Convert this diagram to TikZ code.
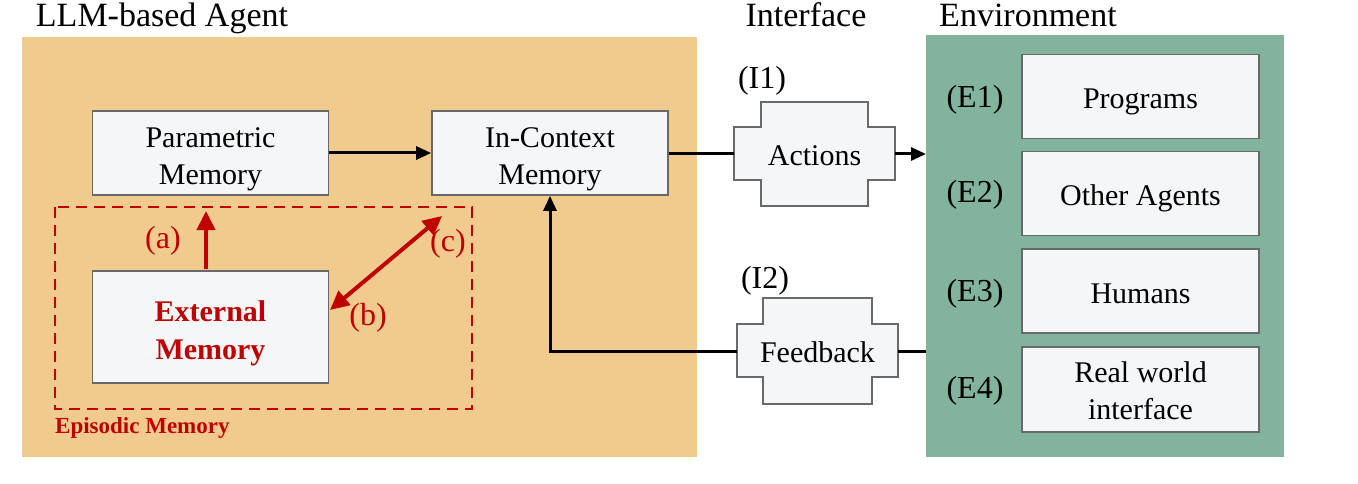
\documentclass[tikz,border=0pt]{standalone}
\usepackage{fontspec}
\setmainfont{Liberation Serif}
\usetikzlibrary{arrows.meta}
\definecolor{agentbg}{RGB}{241,203,141}
\definecolor{envbg}{RGB}{130,179,156}
\definecolor{boxfill}{RGB}{245,246,248}
\definecolor{boxline}{RGB}{105,105,105}
\definecolor{memred}{RGB}{192,0,0}
\tikzset{
  memBox/.style={draw=boxline, fill=boxfill, line width=1.7pt, minimum width=236pt, minimum height=84pt, inner sep=0pt},
  boxText/.style={inner sep=0pt, align=center, font=\fontsize{30}{37}\selectfont},
  titleText/.style={anchor=base, inner sep=0pt, font=\fontsize{34}{40}\selectfont},
  tagText/.style={inner sep=0pt, font=\fontsize{32}{38}\selectfont},
  redTag/.style={inner sep=0pt, text=memred, font=\fontsize{32}{38}\selectfont},
  ifaceShape/.style={draw=boxline, fill=boxfill, line width=1.7pt},
  ifaceText/.style={inner sep=0pt, font=\fontsize{30}{36}\selectfont},
  flow/.style={line width=3pt, -{Triangle[length=15pt,width=13pt]}},
  plainflow/.style={line width=3pt},
  redflow/.style={draw=memred, line width=4pt, -{Triangle[length=19pt,width=18pt]}},
  redboth/.style={draw=memred, line width=4pt, {Triangle[length=19pt,width=18pt]}-{Triangle[length=19pt,width=18pt]}},
}
\begin{document}
\begin{tikzpicture}[x=1pt,y=-1pt]
\path[use as bounding box, fill=white] (0,0) rectangle (1358,484);
% backgrounds
\fill[agentbg] (22,37) rectangle (697,457);
\fill[envbg] (926,35) rectangle (1284,457);
% titles
\node[titleText] (tAgent) at (162,27) {LLM-based Agent};
\node[titleText] (tIface) at (806,27) {Interface};
\node[titleText] (tEnv) at (1028,27) {Environment};
% memory boxes
\node[memBox] (param) at (210.5,153) {};
\node[boxText] (paramT) at ([yshift=-6pt]param.center) {Parametric\\Memory};
\node[memBox] (ctx) at (550,153) {};
\node[boxText] (ctxT) at ([yshift=-6pt]ctx.center) {In-Context\\Memory};
\node[memBox, minimum height=112pt] (ext) at (210.5,327) {};
\node[boxText, text=memred, font=\fontsize{30}{38}\selectfont\bfseries] (extT) at ([yshift=-6pt]ext.center) {External\\Memory};
% episodic dashed frame
\draw[memred, line width=2.6pt, dash pattern=on 11pt off 7pt] (55,207) rectangle (472,409);
\node[anchor=west, inner sep=0pt, text=memred, font=\fontsize{23}{28}\selectfont\bfseries] (epi) at (55,428) {Episodic Memory};
% red arrows
\coordinate (aTop) at (206,211);
\coordinate (aBot) at (206,269);
\draw[redflow] (aBot) -- (aTop);
\node[redTag] (la) at (163,241) {(a)};
\coordinate (cEnd) at (442,216);
\coordinate (bEnd) at (330,310);
\draw[redboth] (bEnd) -- (cEnd);
\node[redTag] (lb) at (368,318) {(b)};
\node[redTag] (lc) at (448,244) {(c)};
% interface shapes
\draw[ifaceShape] (734,127) -- (761,127) -- (761,102) -- (868,102) -- (868,127) -- (895,127) -- (895,180) -- (868,180) -- (868,206) -- (761,206) -- (761,180) -- (734,180) -- cycle;
\node[ifaceText] (act) at (814.5,156) {Actions};
\coordinate (actL) at (734,154);
\coordinate (actR) at (895,154);
\node[tagText] (i1) at (762,81) {(I1)};
\draw[ifaceShape] (737,324) -- (763,324) -- (763,298) -- (872,298) -- (872,324) -- (898,324) -- (898,377) -- (872,377) -- (872,404) -- (763,404) -- (763,377) -- (737,377) -- cycle;
\node[ifaceText] (fb) at (817.5,352) {Feedback};
\coordinate (fbL) at (737,351);
\coordinate (fbR) at (898,351);
\node[tagText] (i2) at (765,281) {(I2)};
% connectors
\coordinate (envIn) at (926,154);
\coordinate (envOut) at (926,351);
\draw[flow] (param.east) -- (ctx.west);
\draw[plainflow] (ctx.east |- actL) -- (actL);
\draw[flow] (actR) -- (envIn);
\draw[plainflow] (envOut) -- (fbR);
\draw[flow] (fbL) -| (ctx.south);
% environment boxes
\node[memBox, minimum width=237pt, minimum height=84pt] (prog) at (1140.5,96.5) {};
\node[boxText] (progT) at ([yshift=-5pt]prog.center) {Programs};
\node[memBox, minimum width=237pt, minimum height=84pt] (agents) at (1140.5,193.5) {};
\node[boxText] (agentsT) at ([yshift=-5pt]agents.center) {Other Agents};
\node[memBox, minimum width=237pt, minimum height=84pt] (humans) at (1140.5,291) {};
\node[boxText] (humansT) at ([yshift=-3pt]humans.center) {Humans};
\node[memBox, minimum width=237pt, minimum height=85pt] (real) at (1140.5,389.5) {};
\node[boxText] (realT) at ([yshift=-1pt]real.center) {Real world\\interface};
\node[tagText] (e1) at (975,100) {(E1)};
\node[tagText] (e2) at (975,195) {(E2)};
\node[tagText] (e3) at (975,294) {(E3)};
\node[tagText] (e4) at (975,391) {(E4)};
\end{tikzpicture}
\end{document}
